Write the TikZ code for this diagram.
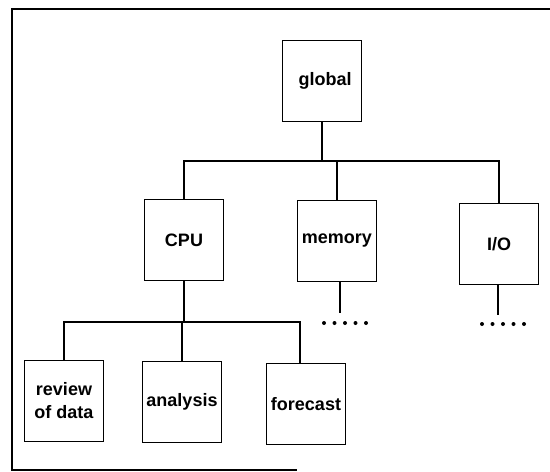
\documentclass[tikz,border=0pt]{standalone}
\usepackage{fontspec}
\setmainfont{Liberation Sans}
\usepackage{tikz}

\begin{document}
\begin{tikzpicture}[x=1pt,y=-1pt,line width=1.1pt,
	unit/.style={draw,line width=1.3pt,minimum width=79pt,minimum height=81pt,inner sep=0pt,
		align=center,font=\fontsize{18}{23}\selectfont\bfseries}]
\useasboundingbox (0,0) rectangle (550,472);
% open frame
\draw[line width=1.3pt] (550,9) -- (12,9) -- (12,470) -- (297,470);

\node[unit] (global) at (322,81) {\hspace*{6pt}global};
\node[unit] (cpu) at (184,240) {CPU};
\node[unit] (memory) at (337,241) {memory};
\node[unit] (io) at (499,244) {I/O};
\node[unit] (review) at (64,401) {review\\of data};
\node[unit] (analysis) at (182,402) {analysis};
\node[unit] (forecast) at (306,404) {forecast};

\draw (global) -- (global |- 0,161) coordinate (top);
\draw (cpu.north) |- (top) -| (io.north);
\draw (memory.north) -- (memory.north |- top);
\draw (cpu.south) -- (cpu.south |- 0,322) coordinate (mid);
\draw (review.north -| 64,0) |- (mid) -| (300,363);
\draw (analysis.north) -- (analysis.north |- mid);

% continuation dots
\coordinate (memend) at (340,313);
\coordinate (ioend) at (498,315);
\draw (memory.south -| memend) -- (memend);
\draw (io.south -| ioend) -- (ioend);
\foreach \x in {0,1,2,3,4} {
	\fill (324+10.5*\x,323) circle (2pt);
	\fill (482+10.5*\x,324) circle (2pt);
}
\end{tikzpicture}
\end{document}
